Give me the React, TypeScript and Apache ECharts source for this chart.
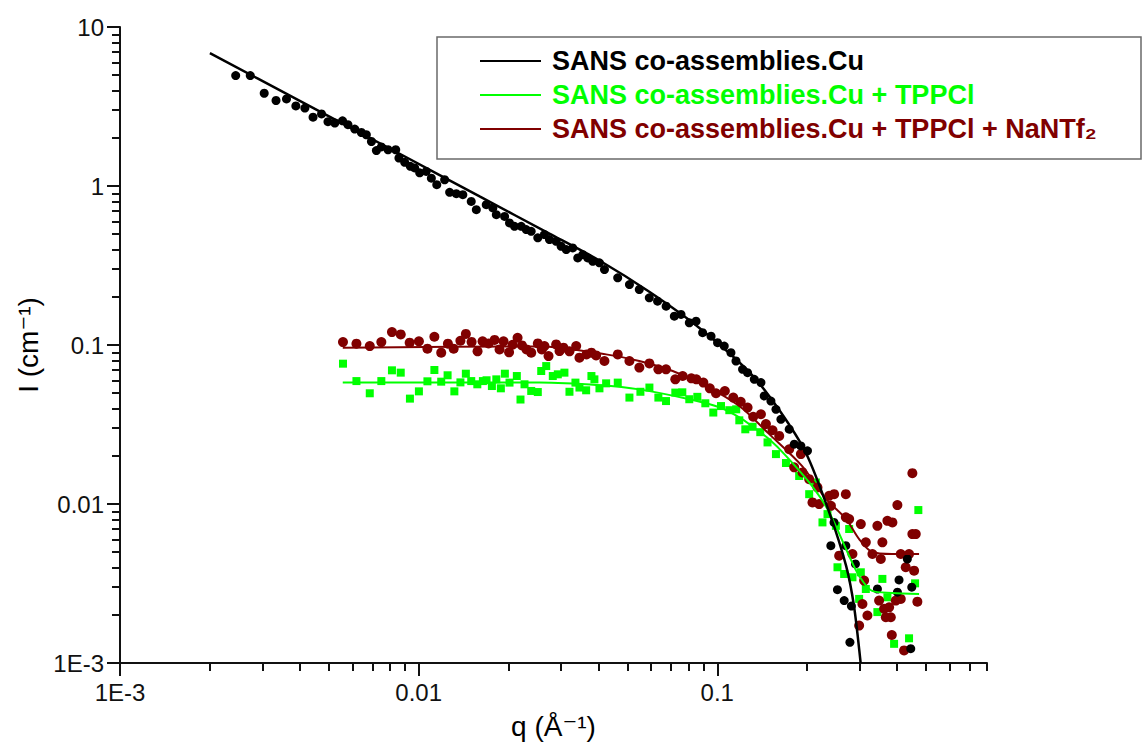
import { useEffect, useRef } from 'react';
import * as echarts from 'echarts';

const FONT = '"Liberation Sans", Arial, "DejaVu Sans", sans-serif';

const NAME_CU = 'SANS co-assemblies.Cu';
const NAME_TPP = 'SANS co-assemblies.Cu + TPPCl';
const NAME_NTF = 'SANS co-assemblies.Cu + TPPCl + NaNTf₂';

const xTickValues = [0.001, 0.01, 0.1];
const xTickLabels = ['1E-3', '0.01', '0.1'];
const yTickValues = [0.001, 0.01, 0.1, 1, 10];
const yTickLabels = ['1E-3', '0.01', '0.1', '1', '10'];

// Cu data (black circles)
const cuQ = [0.00244, 0.00273, 0.00304, 0.00333, 0.00361, 0.00388, 0.00416, 0.00443, 0.00473, 0.00497, 0.00524, 0.00556, 0.0058, 0.00611, 0.00643, 0.00668, 0.00695, 0.00722, 0.0075, 0.0079, 0.00838, 0.00859, 0.00898, 0.00938, 0.0097, 0.01008, 0.0106, 0.01103, 0.0115, 0.01222, 0.0127, 0.01337, 0.01406, 0.015, 0.0156, 0.01684, 0.01772, 0.0182, 0.0194, 0.02015, 0.02094, 0.02205, 0.02292, 0.02381, 0.02506, 0.02638, 0.02742, 0.02887, 0.03, 0.0312, 0.0328, 0.0341, 0.03544, 0.03683, 0.03828, 0.0403, 0.0419, 0.0464, 0.0508, 0.0548, 0.0592, 0.0631, 0.0674, 0.0718, 0.0756, 0.0806, 0.0849, 0.0893, 0.0953, 0.1002, 0.1055, 0.1111, 0.1155, 0.1215, 0.1263, 0.133, 0.14, 0.1436, 0.1512, 0.1572, 0.1633, 0.1741, 0.181, 0.1905, 0.2004, 0.246, 0.24, 0.2694, 0.2901, 0.2525, 0.266, 0.2812, 0.278, 0.3437, 0.406, 0.401, 0.4329, 0.4479, 0.4444];
const cuI = [4.95, 4.95, 3.83, 3.45, 3.53, 3.19, 3.09, 2.71, 2.84, 2.54, 2.49, 2.57, 2.43, 2.28, 2.17, 2.1, 1.905, 1.67, 1.76, 1.69, 1.69, 1.5, 1.41, 1.33, 1.3, 1.21, 1.235, 1.12, 1.02, 1.095, 0.912, 0.895, 0.882, 0.8, 0.71, 0.763, 0.728, 0.66, 0.644, 0.586, 0.558, 0.558, 0.532, 0.519, 0.472, 0.495, 0.46, 0.449, 0.418, 0.398, 0.408, 0.353, 0.37, 0.353, 0.336, 0.3285, 0.298, 0.2646, 0.24, 0.2234, 0.198, 0.1887, 0.1754, 0.1518, 0.1556, 0.138, 0.1413, 0.1195, 0.1137, 0.1034, 0.0984, 0.0895, 0.0793, 0.0703, 0.067, 0.0608, 0.058, 0.0478, 0.0444, 0.0394, 0.0341, 0.02953, 0.02377, 0.0232, 0.0216, 0.00766, 0.00547, 0.00547, 0.0042, 0.00289, 0.00247, 0.00228, 0.00135, 0.00292, 0.00333, 0.00279, 0.00451, 0.003, 0.00123];

// Cu + TPPCl data (green squares)
const tppQ = [0.00558, 0.00619, 0.00686, 0.0075, 0.00814, 0.00871, 0.00935, 0.01002, 0.0107, 0.01129, 0.0119, 0.0125, 0.01317, 0.0138, 0.01439, 0.015, 0.01572, 0.01641, 0.01688, 0.01759, 0.0182, 0.01885, 0.01944, 0.02015, 0.02132, 0.02193, 0.02262, 0.02382, 0.02506, 0.02573, 0.02674, 0.02813, 0.02924, 0.03077, 0.03199, 0.0335, 0.03455, 0.03638, 0.03789, 0.03877, 0.04031, 0.04244, 0.04642, 0.05079, 0.05528, 0.05925, 0.06349, 0.06735, 0.07235, 0.07636, 0.08058, 0.08574, 0.09119, 0.09697, 0.1029, 0.1097, 0.1157, 0.1185, 0.1241, 0.1313, 0.1393, 0.1473, 0.1572, 0.1698, 0.188, 0.2031, 0.2138, 0.225, 0.2339, 0.2495, 0.2526, 0.2659, 0.2764, 0.2835, 0.3024, 0.3143, 0.2985, 0.3436, 0.3571, 0.3712, 0.3908, 0.4386, 0.4595, 0.4712];
const tppI = [0.0763, 0.0593, 0.0497, 0.0593, 0.0693, 0.067, 0.046, 0.0511, 0.0591, 0.0696, 0.0588, 0.0645, 0.0511, 0.0582, 0.066, 0.0593, 0.0566, 0.0593, 0.06, 0.0552, 0.0608, 0.0534, 0.066, 0.058, 0.0638, 0.0454, 0.0566, 0.0514, 0.0506, 0.0686, 0.0737, 0.0638, 0.0654, 0.067, 0.0508, 0.058, 0.054, 0.0519, 0.0638, 0.0608, 0.0534, 0.0574, 0.058, 0.0467, 0.0508, 0.054, 0.0467, 0.0444, 0.0502, 0.0504, 0.0456, 0.0472, 0.043, 0.0376, 0.0413, 0.0389, 0.0394, 0.0336, 0.0295, 0.0306, 0.0283, 0.0244, 0.0206, 0.0181, 0.015, 0.01153, 0.01366, 0.00766, 0.00864, 0.00729, 0.004, 0.00363, 0.00696, 0.00346, 0.00372, 0.00292, 0.00253, 0.00209, 0.00338, 0.00259, 0.00132, 0.00143, 0.00317, 0.00916];

// Cu + TPPCl + NaNTf2 data (dark red circles)
const ntfQ = [0.00558, 0.00619, 0.00686, 0.0075, 0.00814, 0.00871, 0.00933, 0.01002, 0.0107, 0.01129, 0.0119, 0.01253, 0.0131, 0.0138, 0.01439, 0.01504, 0.01575, 0.01637, 0.01714, 0.01796, 0.01866, 0.01924, 0.02008, 0.02063, 0.02144, 0.02219, 0.02297, 0.02382, 0.02506, 0.02585, 0.02638, 0.02722, 0.02887, 0.02963, 0.03055, 0.03199, 0.03369, 0.03455, 0.03647, 0.03789, 0.03929, 0.04189, 0.04642, 0.05079, 0.05483, 0.05925, 0.06349, 0.06735, 0.07235, 0.07656, 0.08185, 0.08508, 0.08981, 0.09439, 0.09901, 0.106, 0.1131, 0.1198, 0.1263, 0.1319, 0.14, 0.1455, 0.1531, 0.1612, 0.1741, 0.1809, 0.1905, 0.1929, 0.2031, 0.2083, 0.2165, 0.2193, 0.2369, 0.2401, 0.2462, 0.2559, 0.2694, 0.2694, 0.2764, 0.2835, 0.2985, 0.3024, 0.3062, 0.3102, 0.3143, 0.3182, 0.3307, 0.3436, 0.3482, 0.3528, 0.3571, 0.3619, 0.3667, 0.3712, 0.3761, 0.381, 0.384, 0.3858, 0.396, 0.4009, 0.4115, 0.4115, 0.4221, 0.4276, 0.4386, 0.45, 0.45, 0.456, 0.4619, 0.4677];
const ntfI = [0.1043, 0.1019, 0.0984, 0.1043, 0.1205, 0.1166, 0.1034, 0.1054, 0.0948, 0.1127, 0.0895, 0.1019, 0.0948, 0.1064, 0.1174, 0.1046, 0.0912, 0.1054, 0.1023, 0.1076, 0.0938, 0.1054, 0.0899, 0.1004, 0.1111, 0.0994, 0.0938, 0.0895, 0.1023, 0.0938, 0.0984, 0.0852, 0.1009, 0.0916, 0.0962, 0.0912, 0.0984, 0.0832, 0.0873, 0.0895, 0.086, 0.0793, 0.0873, 0.0793, 0.0721, 0.0766, 0.0703, 0.0703, 0.0608, 0.0638, 0.0617, 0.0608, 0.058, 0.0534, 0.0497, 0.0514, 0.0467, 0.0439, 0.0404, 0.0354, 0.0367, 0.0318, 0.0291, 0.0268, 0.0221, 0.017, 0.0206, 0.0158, 0.01433, 0.01023, 0.01272, 0.00999, 0.01125, 0.00974, 0.01153, 0.00473, 0.01153, 0.00824, 0.00804, 0.00485, 0.00172, 0.00748, 0.00235, 0.0033, 0.00574, 0.00199, 0.00485, 0.00729, 0.00247, 0.00451, 0.00574, 0.00219, 0.00194, 0.00784, 0.00224, 0.00194, 0.0015, 0.00766, 0.00247, 0.00984, 0.00485, 0.00253, 0.0012, 0.004, 0.00485, 0.01563, 0.00647, 0.00381, 0.00647, 0.00243];

// Fit curves
const cuFitQ = [0.002, 0.004, 0.00864, 0.016, 0.0274, 0.0403, 0.0592, 0.0871, 0.128, 0.1612, 0.1984, 0.2369, 0.27, 0.2872, 0.302];
const cuFitI = [6.84, 3.43, 1.595, 0.86, 0.502, 0.34, 0.216, 0.128, 0.0675, 0.039, 0.0208, 0.00889, 0.00408, 0.00225, 0.001];
const tppFitQ = [0.00557, 0.0254, 0.0403, 0.0548, 0.0806, 0.1016, 0.1185, 0.131, 0.1493, 0.1701, 0.2078, 0.2369, 0.2764, 0.2985, 0.33, 0.3848, 0.4738];
const tppFitI = [0.0582, 0.058, 0.0558, 0.0526, 0.0456, 0.0406, 0.0351, 0.0308, 0.0255, 0.02, 0.01296, 0.00889, 0.00471, 0.00353, 0.00284, 0.00276, 0.00272];
const ntfFitQ = [0.00557, 0.0254, 0.04244, 0.0548, 0.0709, 0.0917, 0.1185, 0.1493, 0.1924, 0.2314, 0.27, 0.2985, 0.33, 0.3848, 0.4738];
const ntfFitI = [0.0962, 0.098, 0.0873, 0.0793, 0.0686, 0.0552, 0.0413, 0.0275, 0.0173, 0.01073, 0.00804, 0.00602, 0.00499, 0.00485, 0.00485];

const COLOR_CU = '#000000';
const COLOR_TPP = '#00ff00';
const COLOR_NTF = '#800000';

const zip = (a: number[], b: number[]) => a.map((v, i) => [v, b[i]]);

function minorTicks(expFrom: number, expTo: number, max: number) {
  const out: number[] = [];
  for (let e = expFrom; e <= expTo; e++) {
    for (let k = 2; k <= 9; k++) {
      const v = Number((k * Math.pow(10, e)).toPrecision(3));
      if (v <= max + 1e-12) out.push(v);
    }
  }
  return out;
}

const labelFrom = (values: number[], labels: string[]) => (v: number) => {
  let best = 0;
  let bd = Infinity;
  values.forEach((tv, i) => {
    const d = Math.abs(Math.log10(tv) - Math.log10(v));
    if (d < bd) { bd = d; best = i; }
  });
  return labels[best];
};

const X_MIN = 0.001;
const X_MAX = 0.8;
const Y_MIN = 0.001;
const Y_MAX = 10;

export default function App() {
  const ref = useRef<HTMLDivElement>(null);
  useEffect(() => {
    if (!ref.current) return;
    const chart = echarts.init(ref.current, null, { renderer: 'svg' });
    const axisColor = '#111';
    const xMinor = minorTicks(-3, -1, X_MAX);
    const yMinor = minorTicks(-3, 0, Y_MAX);
    const option: any = {
      animation: false,
      backgroundColor: '#ffffff',
      grid: { left: 120, right: 156, top: 27, bottom: 81, containLabel: false },
      xAxis: [
        {
          type: 'log', logBase: 10, min: X_MIN, max: X_MAX, position: 'bottom',
          axisLine: { show: true, lineStyle: { color: axisColor, width: 2 } },
          axisTick: { show: true, inside: false, length: 13, customValues: xTickValues, lineStyle: { color: axisColor, width: 2 } },
          axisLabel: { show: true, customValues: xTickValues, formatter: labelFrom(xTickValues, xTickLabels), fontSize: 24, fontFamily: FONT, color: axisColor, margin: 17 },
          splitLine: { show: false },
          minorTick: { show: false },
          name: 'q (Å⁻¹)', nameLocation: 'middle', nameGap: 49,
          nameTextStyle: { fontSize: 28, fontFamily: FONT, color: '#000' },
        },
        {
          type: 'log', logBase: 10, min: X_MIN, max: X_MAX, position: 'bottom', offset: 0,
          axisLine: { show: false },
          axisTick: { show: true, inside: false, length: 8, customValues: xMinor, lineStyle: { color: axisColor, width: 2 } },
          axisLabel: { show: false },
          splitLine: { show: false },
        },
      ],
      yAxis: [
        {
          type: 'log', logBase: 10, min: Y_MIN, max: Y_MAX, position: 'left',
          axisLine: { show: true, lineStyle: { color: axisColor, width: 2 } },
          axisTick: { show: true, inside: false, length: 13, customValues: yTickValues, lineStyle: { color: axisColor, width: 2 } },
          axisLabel: { show: true, customValues: yTickValues, formatter: labelFrom(yTickValues, yTickLabels), fontSize: 24, fontFamily: FONT, color: axisColor, margin: 16 },
          splitLine: { show: false },
          name: 'I (cm⁻¹)', nameLocation: 'middle', nameRotate: 90, nameGap: 67,
          nameTextStyle: { fontSize: 28, fontFamily: FONT, color: '#000' },
        },
        {
          type: 'log', logBase: 10, min: Y_MIN, max: Y_MAX, position: 'left', offset: 0,
          axisLine: { show: false },
          axisTick: { show: true, inside: false, length: 8, customValues: yMinor, lineStyle: { color: axisColor, width: 2 } },
          axisLabel: { show: false },
          splitLine: { show: false },
        },
      ],
      legend: {
        orient: 'vertical', left: 480, top: 44, padding: 0, itemGap: 0,
        itemWidth: 61, itemHeight: 2, icon: 'rect', selectedMode: false,
        textStyle: { fontFamily: FONT, fontSize: 27, fontWeight: 'bold', lineHeight: 34, padding: [0, 0, 0, 6] },
        data: [
          { name: NAME_CU, textStyle: { color: COLOR_CU } },
          { name: NAME_TPP, textStyle: { color: COLOR_TPP } },
          { name: NAME_NTF, textStyle: { color: COLOR_NTF } },
        ],
      },
      graphic: [
        { type: 'rect', shape: { x: 437, y: 37, width: 704, height: 122 }, style: { fill: 'none', stroke: '#6a6a6a', lineWidth: 1.5 }, z: 10 },
      ],
      series: [
        { type: 'scatter', name: 'tpp-data', data: zip(tppQ, tppI), symbol: 'rect', symbolSize: 8, itemStyle: { color: COLOR_TPP, opacity: 1 }, z: 2 },
        { type: 'scatter', name: 'ntf-data', data: zip(ntfQ, ntfI), symbol: 'circle', symbolSize: 10, itemStyle: { color: COLOR_NTF, opacity: 1 }, z: 3 },
        { type: 'scatter', name: 'cu-data', data: zip(cuQ, cuI), symbol: 'circle', symbolSize: 9, itemStyle: { color: COLOR_CU, opacity: 1 }, z: 4 },
        { type: 'line', name: NAME_TPP, data: zip(tppFitQ, tppFitI), showSymbol: false, symbol: 'none', smooth: 0.3, lineStyle: { color: COLOR_TPP, width: 2 }, itemStyle: { color: COLOR_TPP }, z: 5 },
        { type: 'line', name: NAME_NTF, data: zip(ntfFitQ, ntfFitI), showSymbol: false, symbol: 'none', smooth: 0.3, lineStyle: { color: COLOR_NTF, width: 2 }, itemStyle: { color: COLOR_NTF }, z: 5 },
        { type: 'line', name: NAME_CU, data: zip(cuFitQ, cuFitI), showSymbol: false, symbol: 'none', smooth: 0.25, lineStyle: { color: COLOR_CU, width: 2.5 }, itemStyle: { color: COLOR_CU }, z: 6 },
      ],
    };
    chart.setOption(option);
    return () => chart.dispose();
  }, []);
  return <div ref={ref} style={{ position: 'absolute', left: 0, top: 0, width: 1143, height: 745, background: '#fff' }} />;
}
